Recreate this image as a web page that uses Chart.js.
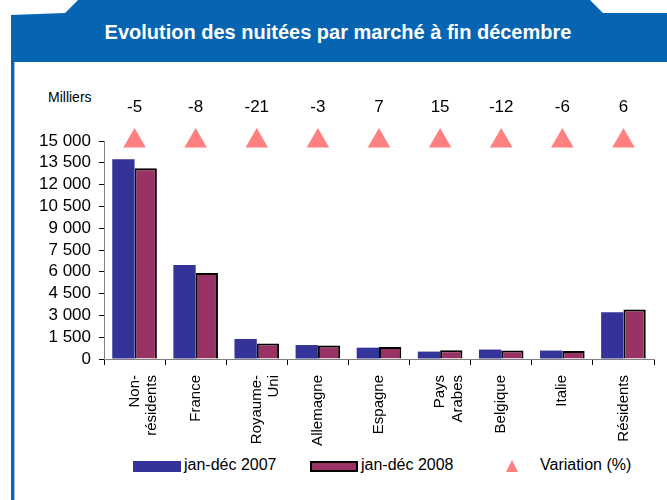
<!DOCTYPE html>
<html>
<head>
<meta charset="utf-8">
<script src="https://cdn.jsdelivr.net/npm/chart.js@4"></script>
<style>
  body { margin: 0; width: 667px; height: 500px; background: #fff; font-family: "Liberation Sans", Arial, sans-serif; overflow: hidden; position: relative; }
  #header { position: absolute; left: 11px; top: 0; width: 656px; height: 62px; background: #0565b2;
    clip-path: polygon(0 15px, 54px 13px, 67px 0, 579px 0, 592px 13px, 656px 13px, 656px 62px, 0 62px); }
  #title { position: absolute; left: 0; width: 676px; top: 21px; text-align: center; color: #fff; font-weight: bold; font-size: 20px; }
  #leftbar { position: absolute; left: 11px; top: 62px; width: 3px; height: 438px; background: #0565b2; box-shadow: 1px 0 0 #9cc3e6; }
  #unit { position: absolute; left: 48px; top: 89px; font-size: 14px; color: #000; }
  #wrap { position: absolute; left: 14px; top: 62px; width: 653px; height: 390px; }
  .leg { position: absolute; top: 456px; font-size: 16px; color: #000; }
  .sw { position: absolute; top: 461px; width: 48px; height: 11px; box-sizing: border-box; }
  #tri { position: absolute; left: 506px; top: 460px; width: 0; height: 0; border-left: 6px solid transparent; border-right: 6px solid transparent; border-bottom: 12px solid #ff8080; }
</style>
</head>
<body>
<div id="header"></div>
<div id="title">Evolution des nuitées par marché à fin décembre</div>
<div id="leftbar"></div>
<div id="unit">Milliers</div>
<div id="wrap"><canvas id="chart"></canvas></div>
<div class="sw" style="left:133px;background:#333399"></div>
<div class="leg" style="left:184px">jan-déc 2007</div>
<div class="sw" style="left:310px;background:#993366;border:2px solid #000"></div>
<div class="leg" style="left:361px">jan-déc 2008</div>
<div id="tri"></div>
<div class="leg" style="left:540px">Variation (%)</div>
<script>
var categories = [['Non-', 'résidents'], 'France', ['Royaume-', 'Uni'], 'Allemagne', 'Espagne', ['Pays', 'Arabes'], 'Belgique', 'Italie', 'Résidents'];
var nights2007 = [13750, 6470, 1380, 960, 780, 510, 650, 580, 3210];
var nights2008 = [13130, 5920, 1060, 930, 820, 600, 580, 550, 3410];
var variation = [-5, -8, -21, -3, 7, 15, -12, -6, 6];
var yTicks = { min: 0, max: 15000, step: 1500 };

// triangles sit on the top line of the scale, the % is written above them
var markerLevel = categories.map(function () { return yTicks.max; });

function fmt(v) {
  return String(v).replace(/\B(?=(\d{3})+(?!\d))/g, ' ');
}

var variationLabels = {
  id: 'variationLabels',
  afterDatasetsDraw: function (chart) {
    var ctx = chart.ctx;
    var meta = chart.getDatasetMeta(2);
    ctx.save();
    ctx.fillStyle = '#000';
    ctx.font = '17px "Liberation Sans", Arial, sans-serif';
    ctx.textAlign = 'center';
    ctx.textBaseline = 'middle';
    meta.data.forEach(function (pt, i) {
      ctx.fillText(String(variation[i]), pt.x, pt.y - 34);
    });
    ctx.restore();
  }
};

var ctx = document.getElementById('chart').getContext('2d');
var chart = new Chart(ctx, {
  type: 'bar',
  data: {
    labels: categories,
    datasets: [{
      label: 'jan-déc 2007',
      data: nights2007,
      backgroundColor: '#333399',
      borderWidth: 0,
      order: 2
    }, {
      label: 'jan-déc 2008',
      data: nights2008,
      backgroundColor: '#993366',
      borderColor: '#000',
      borderWidth: 2,
      order: 2
    }, {
      type: 'line',
      label: 'Variation (%)',
      data: markerLevel,
      showLine: false,
      pointStyle: 'triangle',
      pointRadius: 13,
      pointBackgroundColor: '#ff8080',
      pointBorderWidth: 0,
      clip: false,
      order: 1
    }]
  },
  options: {
    responsive: true,
    maintainAspectRatio: false,
    animation: false,
    layout: { padding: { top: 79, right: 8, left: 0, bottom: 0 } },
    plugins: { legend: { display: false }, tooltip: { enabled: false } },
    datasets: { bar: { categoryPercentage: 0.73, barPercentage: 1 } },
    scales: {
      x: {
        grid: { display: true, drawOnChartArea: false, offset: true, color: '#000', tickLength: 6 },
        border: { color: '#808080', width: 1 },
        ticks: {
          color: '#000', maxRotation: 90, minRotation: 90, autoSkip: false, padding: 10,
          font: { family: '"Liberation Sans", Arial, sans-serif', size: 15, lineHeight: 1.15 }
        },
        afterFit: function (scale) { scale.height = 93; }
      },
      y: {
        min: yTicks.min, max: yTicks.max,
        grid: { drawOnChartArea: false, color: '#000', tickLength: 5 },
        border: { color: '#808080', width: 1 },
        ticks: {
          stepSize: yTicks.step, autoSkip: false, color: '#000', padding: 8,
          font: { family: '"Liberation Sans", Arial, sans-serif', size: 17, lineHeight: 1 },
          callback: function (v) { return fmt(v); }
        },
        afterFit: function (scale) { scale.width = 90; }
      }
    }
  },
  plugins: [variationLabels]
});
</script>
</body>
</html>
